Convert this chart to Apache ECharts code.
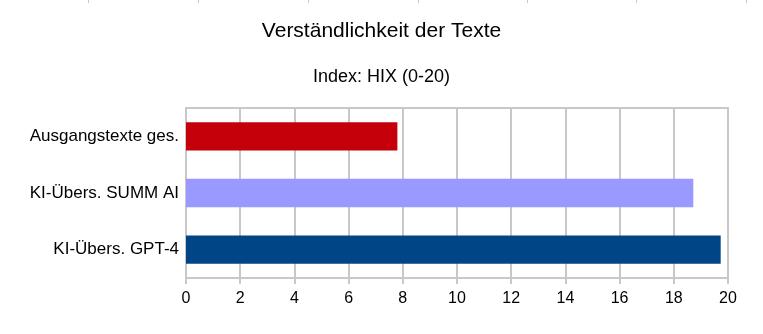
<!DOCTYPE html>
<html>
<head>
<meta charset="utf-8">
<script src="https://cdn.jsdelivr.net/npm/echarts@6/dist/echarts.min.js"></script>
<style>html,body{margin:0;padding:0;background:#fff;}#c{width:763px;height:334px;}</style>
</head>
<body>
<div id="c"></div>
<script>
const categories = ['Ausgangstexte ges.', 'KI-Übers. SUMM AI', 'KI-Übers. GPT-4'];
const values = [7.8, 18.72, 19.73];
const barColors = ['#c5000b', '#9999ff', '#004586'];
const xTicks = { min: 0, max: 20, interval: 2 };

const chart = echarts.init(document.getElementById('c'), null, { renderer: 'canvas' });
const font = '"Liberation Sans", Arial, sans-serif';
const cellMarks = [88, 198, 308, 418, 527, 636, 746].map(x => ({
  type: 'rect', shape: { x: x, y: 0, width: 1, height: 3 }, style: { fill: '#c8c8c8' }, silent: true
}));
chart.setOption({
  animation: false,
  backgroundColor: '#ffffff',
  graphic: cellMarks,
  title: [
    { text: 'Verständlichkeit der Texte', left: 'center', top: 21, padding: 0,
      textStyle: { fontFamily: font, fontSize: 21, fontWeight: 'normal', color: '#000' } },
    { text: 'Index: HIX (0-20)', left: 'center', top: 68, padding: 0,
      textStyle: { fontFamily: font, fontSize: 18, fontWeight: 'normal', color: '#000' } }
  ],
  grid: { left: 186, right: 35, top: 108, bottom: 56, show: true, borderColor: '#c8c8c8', borderWidth: 2, containLabel: false },
  xAxis: {
    type: 'value', min: xTicks.min, max: xTicks.max, interval: xTicks.interval,
    axisLine: { show: true, lineStyle: { color: '#c8c8c8', width: 2 } },
    axisTick: { show: true, length: 6, lineStyle: { color: '#c8c8c8', width: 2 } },
    splitLine: { show: true, lineStyle: { color: '#c8c8c8', width: 2 } },
    axisLabel: { fontFamily: font, fontSize: 16, color: '#000', margin: 13 }
  },
  yAxis: {
    type: 'category', data: categories, inverse: true,
    axisLine: { show: true, lineStyle: { color: '#c8c8c8', width: 2 } },
    axisTick: { show: false },
    axisLabel: { fontFamily: font, fontSize: 17, color: '#000', margin: 7 }
  },
  series: [{
    type: 'bar',
    barWidth: '50%',
    data: values.map((v, i) => ({ value: v, itemStyle: { color: barColors[i] } }))
  }]
});
</script>
</body>
</html>
